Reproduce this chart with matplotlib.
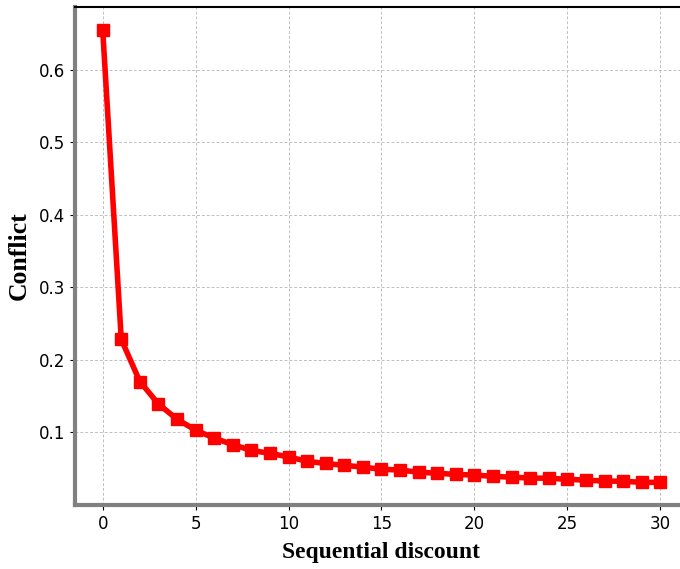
import matplotlib.pyplot as plt
import numpy as np

discount = list(range(31))
conflict = [0.655, 0.228, 0.170, 0.139, 0.118, 0.103, 0.092, 0.083, 0.075, 0.071,
            0.066, 0.060, 0.057, 0.0545, 0.052, 0.049, 0.048, 0.045, 0.0435, 0.042,
            0.041, 0.0394, 0.038, 0.037, 0.0366, 0.0353, 0.034, 0.0328, 0.0325, 0.031,
            0.031]
xticks = [0, 5, 10, 15, 20, 25, 30]
yticks = [0.1, 0.2, 0.3, 0.4, 0.5, 0.6]

fig = plt.figure(figsize=(6.8, 5.69), dpi=100)
ax = fig.add_axes([0.110, 0.1125, 0.902, 0.8752])

ax.plot(discount, conflict, color='red', lw=4, marker='s', markersize=9)

ax.set_xlim(-1.5, 31.5)
ax.set_xticks(xticks)
ax.set_yticks(yticks)
ax.tick_params(labelsize=12)
ax.grid(True, linestyle=(0, (3, 2)), color='#c0c0c0', lw=0.7)

for side in ['left', 'bottom']:
    ax.spines[side].set_color('gray')
    ax.spines[side].set_linewidth(3)
ax.spines['top'].set_linewidth(1.5)

ax.set_xlabel('Sequential discount', fontsize=17, fontweight='bold',
              family='Liberation Serif', labelpad=7)
ax.set_ylabel('Conflict', fontsize=18.5, fontweight='bold',
              family='Liberation Serif', labelpad=6)

plt.savefig('out.png')
